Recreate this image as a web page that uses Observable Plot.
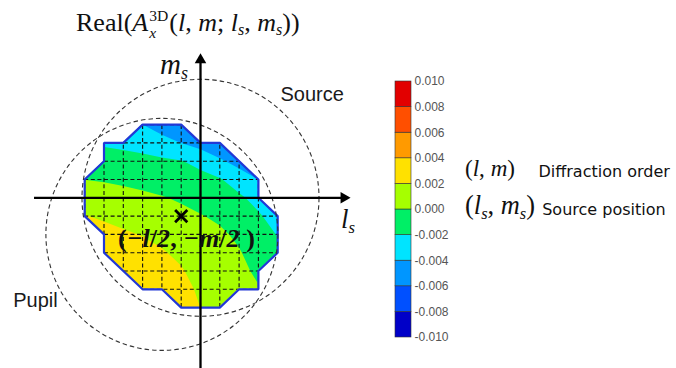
<!DOCTYPE html>
<html><head><meta charset="utf-8">
<script src="https://cdn.jsdelivr.net/npm/d3@7"></script>
<script src="https://cdn.jsdelivr.net/npm/@observablehq/plot@0.6"></script>
<style>
body{margin:0;background:#fff;}
#chart{position:relative;width:676px;height:368px;overflow:hidden;background:#fff;}
.lbl{position:absolute;white-space:nowrap;line-height:1;color:#111;font-family:"Liberation Serif",serif;font-size:22px;}
.lbl sub{font-size:0.62em;vertical-align:-0.28em;line-height:0;}
.ss{display:inline-block;vertical-align:-0.42em;font-size:0.6em;line-height:1.05;text-align:left;margin-left:1px;margin-right:1px;}
.ss span{display:block;}
.bl{display:inline-block;width:0;height:0;vertical-align:baseline;}
</style></head><body><div id="chart"></div>
<script>
// ---------- data ----------
// sample positions of the source grid (l_s across, m_s down the rows)
const gridL = [-6, -5, -4, -3, -2, -1, 0, 1, 2, 3, 4];
const gridM = [4, 3, 2, 1, 0, -1, -2, -3, -4, -5, -6];
// Real(A_x^3D) estimated at each grid node (rows: m_s = 4 ... -6, cols: l_s = -6 ... 4)
const row4  = [-0.00305,-0.00322,-0.0034,-0.0040,-0.00498,-0.0055,-0.0058,-0.0058,-0.0058,-0.0058,-0.0058];
const row3  = [-0.0021,-0.00224,-0.0024,-0.00267,-0.0032,-0.00402,-0.00478,-0.0056,-0.0058,-0.0058,-0.0058];
const row2  = [-0.00105,-0.0012,-0.00137,-0.00151,-0.0017,-0.00191,-0.00256,-0.00368,-0.00473,-0.00533,-0.00528];
const row1  = [-0.00002,-0.00014,-0.00032,-0.00054,-0.00078,-0.00106,-0.00141,-0.00185,-0.00291,-0.0040,-0.00448];
const row0  = [0.00104,0.0008,0.00058,0.00035,0.0001,-0.00021,-0.00061,-0.00108,-0.00167,-0.00267,-0.00368];
const rowM1 = [0.00207,0.00172,0.00141,0.00114,0.00079,0.00043,0.00009,-0.00031,-0.001,-0.00176,-0.00288];
const rowM2 = [0.00311,0.00265,0.00225,0.00192,0.00148,0.00101,0.00047,0.0003,-0.00033,-0.00127,-0.00208];
const rowM3 = [0.0038,0.00357,0.00309,0.00271,0.00217,0.00159,0.00085,0.00058,0.00013,-0.00078,-0.00164];
const rowM4 = [0.0038,0.0038,0.0038,0.00349,0.00286,0.00217,0.00124,0.00085,0.0004,-0.00029,-0.00124];
const rowM5 = [0.0038,0.0038,0.0038,0.0038,0.00355,0.00275,0.00162,0.00112,0.00067,0.00011,-0.00084];
const rowM6 = [0.0038,0.0038,0.0038,0.0038,0.0038,0.00333,0.00198,0.0014,0.00093,0.00038,-0.00044];

// outline of the sampled region (vertices, clockwise from the left corner)
const regionL = [-6,-5,-5,-4,-3,-1, 0, 1, 3, 3, 4, 4, 3, 3, 2, 1,-1,-2,-3,-5,-5,-6];
const regionM = [ 1, 2, 3, 3, 4, 4, 3, 3, 1, 0,-1,-3,-4,-5,-5,-6,-6,-5,-5,-3,-2,-1];

// circle centres and the marked midpoint
const sourceCenter = {l: 0, m: 0};
const pupilCenter = {l: -2, m: -2};
const midPoint = {l: -1, m: -1};

// colour bar
const thresholds = [-0.010,-0.008,-0.006,-0.004,-0.002,0.000,0.002,0.004,0.006,0.008,0.010];
const bandColors = ["#0000c8","#0050ff","#0096ff","#00e4ff","#00ef66","#a6ff00","#ffe100","#ff9a00","#ff4f00","#e20000"];

// ---------- build ----------
const chart = document.getElementById("chart");
const values = [row4,row3,row2,row1,row0,rowM1,rowM2,rowM3,rowM4,rowM5,rowM6].flat();
const vertices = regionL.map((l, k) => ({l, m: regionM[k]}));
const topChain = vertices.slice(0, 11);
const bottomChain = vertices.slice(11).reverse();
const E = 7; // mask extent (grid units)
const topMask = [{l: -E, m: -E}, {l: -6, m: -E}, ...topChain, {l: 4, m: -E}, {l: E, m: -E}];
const bottomMask = [{l: -E, m: bottomChain[0].m}, ...bottomChain, {l: E, m: bottomChain[bottomChain.length - 1].m}];
const colorScale = {type: "threshold", domain: thresholds.slice(1, -1), range: bandColors};

// pixel geometry of the drawing: 19.3 px per l_s unit, 18.3 px per m_s unit, origin at (200,197.3)
const xDomain = [(0 - 200) / 19.3, (676 - 200) / 19.3];
const yDomain = [(197.3 - 368) / 18.3, (197.3 - 0) / 18.3];

const main = Plot.plot({
  width: 676, height: 368, margin: 0,
  x: {domain: xDomain, axis: null},
  y: {domain: yDomain, axis: null},
  color: colorScale,
  style: {background: "white", overflow: "hidden"},
  marks: [
    Plot.contour(values, {width: 11, height: 11, x1: -6.5, x2: 4.5, y1: 4.5, y2: -6.5,
      thresholds, fill: Plot.identity}),
    Plot.ruleX(gridL, {y1: -6, y2: 4, stroke: "#111", strokeWidth: 1.1, strokeDasharray: "4,2.6"}),
    Plot.ruleY(gridM, {x1: -6, x2: 4, stroke: "#111", strokeWidth: 1.1, strokeDasharray: "4,2.6"}),
    Plot.areaY(topMask, {x: "l", y1: "m", y2: E, fill: "white", curve: "linear"}),
    Plot.areaY(bottomMask, {x: "l", y1: "m", y2: -E, fill: "white", curve: "linear"}),
    Plot.line([...vertices, vertices[0]], {x: "l", y: "m", stroke: "#2238d6", strokeWidth: 2.2, strokeLinejoin: "miter"}),
    Plot.dot([sourceCenter], {x: "l", y: "m", r: 118.5, stroke: "#333", strokeWidth: 1.1, strokeDasharray: "4.5,3", fill: "none"}),
    Plot.dot([pupilCenter], {x: "l", y: "m", r: 116, stroke: "#333", strokeWidth: 1.1, strokeDasharray: "4.5,3", fill: "none"}),
    Plot.ruleY([0], {x1: -8.6, x2: 7.45, stroke: "black", strokeWidth: 2.3}),
    Plot.ruleX([0], {y1: -9.8, y2: 7.55, stroke: "black", strokeWidth: 2.3}),
    Plot.dot([{l: 7.43, m: 0}], {x: "l", y: "m", symbol: "triangle", r: 4.3, rotate: 90, fill: "black", stroke: "none"}),
    Plot.dot([{l: 0, m: 7.54}], {x: "l", y: "m", symbol: "triangle", r: 4.3, fill: "black", stroke: "none"}),
    Plot.dot([midPoint], {x: "l", y: "m", symbol: "times", r: 5.6, stroke: "black", strokeWidth: 2.8}),
    Plot.text(["Source"], {x: 4.145, y: 5.667, text: d => d, textAnchor: "start", fontSize: 20, fontFamily: "Liberation Sans", fill: "#1a1a1a"}),
    Plot.text(["Pupil"], {x: -9.705, y: -5.59, text: d => d, textAnchor: "start", fontSize: 20, fontFamily: "Liberation Sans", fill: "#1a1a1a"}),
    Plot.text(["Diffraction order"], {x: 17.513, y: 1.443, text: d => d, textAnchor: "start", fontSize: 16, fontFamily: "DejaVu Sans", fill: "#111"}),
    Plot.text(["Source position"], {x: 17.705, y: -0.634, text: d => d, textAnchor: "start", fontSize: 16, fontFamily: "DejaVu Sans", fill: "#111"})
  ]
});
main.style.position = "absolute";
main.style.left = "0px";
main.style.top = "0px";
chart.appendChild(main);

// colour bar
const bands = thresholds.slice(0, -1).map((lo, k) => ({lo, hi: thresholds[k + 1]}));
const bar = Plot.plot({
  width: 60, height: 272, marginTop: 8, marginBottom: 8, marginLeft: 1, marginRight: 43,
  x: {domain: [0, 1], axis: null},
  y: {domain: [-0.010, 0.010], axis: "right", ticks: thresholds, tickFormat: d => d.toFixed(3), tickSize: 0, tickPadding: 3, label: null},
  color: colorScale,
  style: {fontFamily: "Liberation Sans", fontSize: "12px", color: "#555", background: "transparent", overflow: "visible"},
  marks: [
    Plot.rect(bands, {x1: 0, x2: 1, y1: "lo", y2: "hi", fill: "lo", stroke: "#333", strokeWidth: 0.6})
  ]
});
bar.style.position = "absolute";
bar.style.left = "394px";
bar.style.top = "73px";
chart.appendChild(bar);

// math labels (rich text)
function placeLabel(html, left, baseline, targetWidth, extra) {
  const el = document.createElement("div");
  el.className = "lbl";
  if (extra) Object.assign(el.style, extra);
  el.innerHTML = html + '<span class="bl"></span>';
  el.style.left = left + "px";
  el.style.top = "0px";
  chart.appendChild(el);
  if (targetWidth) {
    const w = el.getBoundingClientRect().width;
    const fs = parseFloat(getComputedStyle(el).fontSize);
    el.style.fontSize = (fs * targetWidth / w) + "px";
  }
  const c = chart.getBoundingClientRect().top;
  const b = el.querySelector(".bl").getBoundingClientRect().top - c;
  el.style.top = (baseline - b) + "px";
}
placeLabel('Real(<i>A</i><span class="ss"><span>3D</span><span><i>x</i></span></span>(<i>l</i>, <i>m</i>; <i>l</i><sub><i>s</i></sub>, <i>m</i><sub><i>s</i></sub>))', 76, 31, 224);
placeLabel('<i>m</i><sub><i>s</i></sub>', 160, 74, 28);
placeLabel('<i>l</i><sub><i>s</i></sub>', 341, 228, 14);
placeLabel('(<i>−l</i>/<i>2</i>, <i>−m</i>/<i>2</i> )', 118, 247, 137, {fontWeight: "bold"});
placeLabel('(<i>l</i>, <i>m</i>)', 465, 176, 50);
placeLabel('(<i>l</i><sub><i>s</i></sub>, <i>m</i><sub><i>s</i></sub>)', 465, 214, 70);
</script>
</body></html>
